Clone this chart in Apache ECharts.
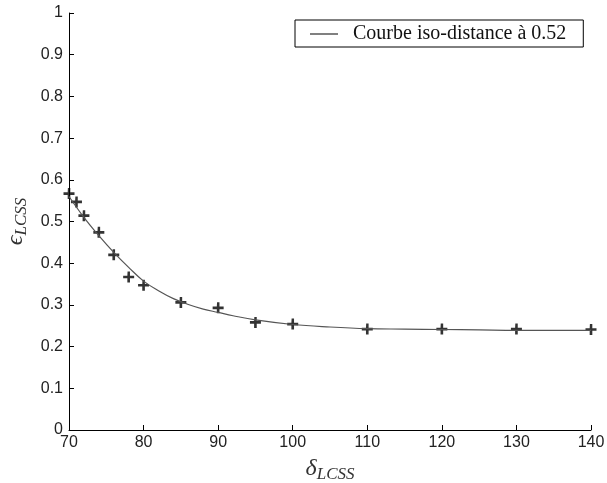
<!DOCTYPE html>
<html><head><meta charset="utf-8">
<script src="https://cdn.jsdelivr.net/npm/echarts@6/dist/echarts.min.js"></script>
<style>html,body{margin:0;padding:0;background:#fff}#c{width:607px;height:483px}</style>
</head><body><div id="c"></div>
<script>
// Measured points (markers)
const pointX = [70, 71, 72, 74, 76, 78, 80, 85, 90, 95, 100, 110, 120, 130, 140];
const pointY = [0.567, 0.547, 0.514, 0.474, 0.42, 0.367, 0.347, 0.306, 0.293, 0.258, 0.254, 0.242, 0.242, 0.242, 0.241];
// Iso-distance curve
const curveX = [70, 72, 74, 76, 78, 80, 82, 84, 86, 88, 90, 92, 95, 100, 105, 110, 115, 120, 125, 130, 135, 140];
const curveY = [0.56, 0.51, 0.466, 0.426, 0.39, 0.357, 0.334, 0.315, 0.301, 0.29, 0.282, 0.274, 0.264, 0.253, 0.247, 0.243, 0.242, 0.241, 0.240, 0.239, 0.239, 0.239];
const xTicks = [70, 80, 90, 100, 110, 120, 130, 140];
const yTicks = [0, 0.1, 0.2, 0.3, 0.4, 0.5, 0.6, 0.7, 0.8, 0.9, 1];
const legendLabel = 'Courbe iso-distance à 0.52';

const chart = echarts.init(document.getElementById('c'), null, {renderer: 'canvas'});
const tickFont = {fontFamily: 'Liberation Sans', fontSize: 16, color: '#222'};
const nameRich = {
  g: {fontFamily: 'Liberation Serif', fontStyle: 'italic', fontSize: 24, color: '#333'},
  s: {fontFamily: 'Liberation Serif', fontStyle: 'italic', fontSize: 17, color: '#333', padding: [12, 0, 0, 0]}
};
chart.setOption({
  animation: false,
  grid: {left: 69, right: 16, top: 13, bottom: 53, containLabel: false, outerBoundsMode: 'none'},
  legend: {
    data: [{name: legendLabel, icon: 'rect'}],
    left: 295, top: 20,
    padding: [4, 17, 3, 15],
    borderColor: '#000', borderWidth: 1,
    itemWidth: 28, itemHeight: 1, itemGap: 10,
    itemStyle: {color: '#000'},
    textStyle: {fontFamily: 'Liberation Serif', fontSize: 20, color: '#111', padding: [0, 0, 0, 10]}
  },
  xAxis: {
    type: 'value', min: 70, max: 140, interval: 10,
    name: '{g|δ}{s|LCSS}', nameLocation: 'middle', nameGap: 24,
    nameTextStyle: {rich: nameRich},
    axisLine: {lineStyle: {color: '#000', width: 1}},
    axisTick: {inside: true, length: 5, lineStyle: {color: '#000'}},
    axisLabel: Object.assign({margin: 5}, tickFont),
    splitLine: {show: false}
  },
  yAxis: {
    type: 'value', min: 0, max: 1, interval: 0.1,
    name: '{g|ϵ}{s|LCSS}', nameLocation: 'middle', nameGap: 38, nameRotate: 90,
    nameTextStyle: {rich: nameRich},
    axisLine: {show: true, lineStyle: {color: '#000', width: 1}},
    axisTick: {show: true, inside: true, length: 5, lineStyle: {color: '#000'}},
    axisLabel: Object.assign({margin: 6, formatter: v => String(+v.toFixed(1))}, tickFont),
    splitLine: {show: false}
  },
  series: [
    {
      name: legendLabel, type: 'line', smooth: 0.4, symbol: 'none',
      data: curveX.map((x, i) => [x, curveY[i]]),
      lineStyle: {color: '#555', width: 1.2},
      itemStyle: {color: '#000'}
    },
    {
      name: 'points', type: 'scatter',
      symbol: 'path://M4,0H6.2V3.8H10V6.2H6.2V10H3.8V6.2H0V3.8H3.8Z', symbolSize: 11,
      data: pointX.map((x, i) => [x, pointY[i]]),
      itemStyle: {color: '#000'}
    }
  ]
});
</script></body></html>
